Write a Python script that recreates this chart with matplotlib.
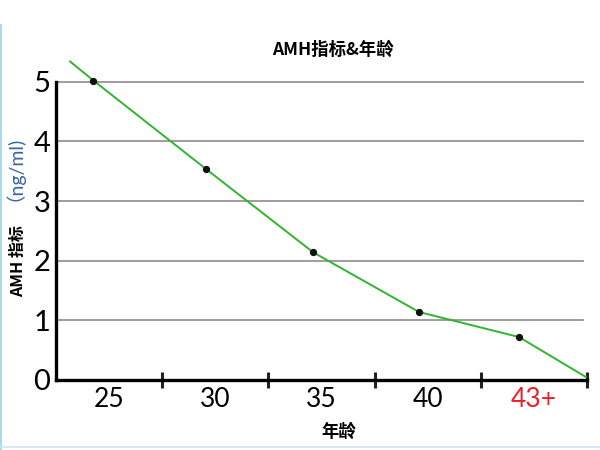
import matplotlib
matplotlib.use("Agg")
import matplotlib.pyplot as plt
from matplotlib.lines import Line2D

plt.rcParams['font.family'] = ['Noto Sans CJK SC', 'DejaVu Sans']

# ---- data ----
categories = ['25', '30', '35', '40', '43+']
category_centers = [25, 30, 35, 40, 45]
bin_edges = [27.5, 32.5, 37.5, 42.5, 47.5]
point_ages = [24.26, 29.55, 34.61, 39.59, 44.3]
amh_values = [5.02, 3.54, 2.14, 1.14, 0.72]
line_start = (23.16, 5.34)
line_end = (47.45, 0.05)
y_ticks = [0, 1, 2, 3, 4, 5]

fig = plt.figure(figsize=(6, 4.5), dpi=100)
ax = fig.add_axes([56/600, 1-380/450, 531/600, 5.45*59.66/450])
ax.set_xlim(22.5, 47.5)
ax.set_ylim(0, 5.45)

# grid lines
ax.hlines(y_ticks[1:], 22.5, 47.35, color='#a39a9c', lw=1.4, zorder=1)

# line
xs = [line_start[0]] + point_ages + [line_end[0]]
ys = [line_start[1]] + amh_values + [line_end[1]]
ax.plot(xs, ys, color='#2fb52f', lw=1.4, zorder=3, clip_on=False)
ax.scatter(point_ages, amh_values, s=18, color='#111111', zorder=4)

# spines
for s in ['top', 'right']:
    ax.spines[s].set_visible(False)
ax.spines['left'].set_linewidth(2.4)
ax.spines['bottom'].set_linewidth(2.4)
ax.spines['left'].set_bounds(0, 5)

# y ticks
ax.set_yticks(y_ticks)
ax.set_yticklabels([str(v) for v in y_ticks], family=['Lato', 'DejaVu Sans'], fontsize=21)
ax.tick_params(axis='y', length=0, pad=4)

# x ticks: boundaries as major, labels as minor
ax.set_xticks(bin_edges)
ax.set_xticklabels([''] * len(bin_edges))
ax.tick_params(axis='x', which='major', direction='inout', length=12, width=2.2, color='#222222')
ax.xaxis.get_major_ticks()[-1].tick1line.set_color('#5a2020')
ax.set_xticks(category_centers, minor=True)
ax.set_xticklabels(categories, minor=True, family=['Lato', 'DejaVu Sans'], fontsize=19)
ax.tick_params(axis='x', which='minor', length=0, pad=5)
ax.get_xticklabels(minor=True)[-1].set_color('#e8202a')

# title & labels
fig.text(333/600, 1-50/450, 'AMH指标&年龄', ha='center', va='center', fontsize=12.5, fontweight='bold')
fig.text(339/600, 1-432/450, '年龄', ha='center', va='center', fontsize=12.5, fontweight='bold')
fig.text(23/600, 1-261/450, 'AMH 指标', rotation=90, rotation_mode='anchor',
         ha='center', va='baseline', fontsize=11.5, fontweight='bold')
fig.text(11/600, 1-163/450, '（ng/ml)', rotation=90, rotation_mode='anchor',
         ha='center', va='baseline', fontsize=14, color='#3a64a8', family=['Lato', 'Noto Sans CJK SC'])

# light blue frame edges
fig.add_artist(Line2D([0.002, 0.002], [0, 1-25/450], transform=fig.transFigure, color='#a9d9ec', lw=1.5))
fig.add_artist(Line2D([0, 1], [1-447/450, 1-447/450], transform=fig.transFigure, color='#cfe6ef', lw=1.2))

fig.savefig('out.png', dpi=100)
